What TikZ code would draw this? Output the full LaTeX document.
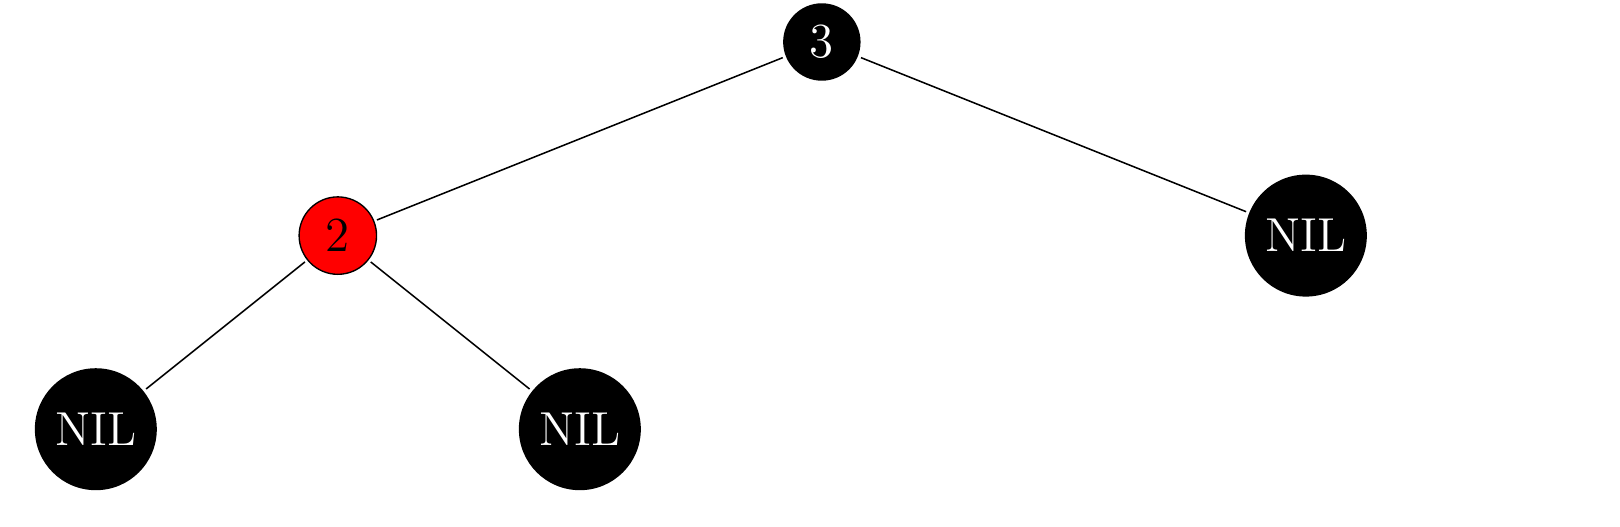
\documentclass[tikz,border=0pt]{standalone}
\usepackage{amsmath, amsfonts}
\usetikzlibrary{arrows.meta, calc, positioning}
\tikzset{
  blacknode/.style={
    circle, fill=black, text=white, inner sep=0pt, outer sep=1pt, font=\fontsize{14}{17}\selectfont
  },
  rednode/.style={
    circle, fill=red, draw=black, thin, text=black, inner sep=0pt, outer sep=1pt, minimum size=0.8cm, font=\fontsize{14}{17}\selectfont
  },
  nilnode/.style={
    blacknode, minimum size=1.26cm
  },
  edge/.style={
    draw=black, line width=0.45pt
  }
}
\begin{document}
\begin{tikzpicture}
        \useasboundingbox (-8.49,-5.0) rectangle (8.245,0.434);
        \node[blacknode, minimum size=0.8cm] (r3) at (0,0) {$3$};
        \node[rednode] (r2) at ($(r3)+(-5cm,-2cm)$) {$2$};
        \node[nilnode] (nilr) at ($(r3)+(5cm,-2cm)$) {NIL};
        \node[nilnode] (nilll) at ($(r2)+(-2.5cm,-2cm)$) {NIL};
        \node[nilnode] (nillr) at ($(r2)+(2.5cm,-2cm)$) {NIL};
        \draw[edge] (r3) -- (r2);
        \draw[edge] (r3) -- (nilr);
        \draw[edge] (r2) -- (nilll);
        \draw[edge] (r2) -- (nillr);
    \end{tikzpicture}
\end{document}
